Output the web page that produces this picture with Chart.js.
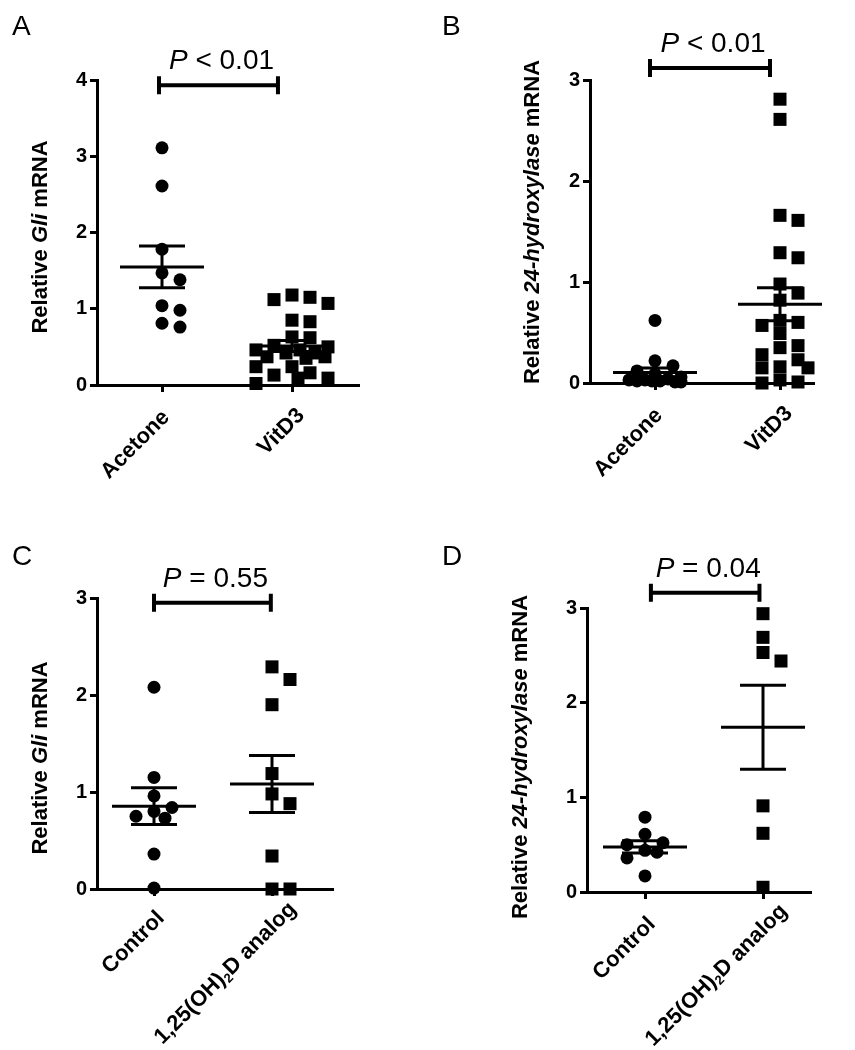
<!DOCTYPE html>
<html>
<head>
<meta charset="utf-8">
<script src="https://cdn.jsdelivr.net/npm/chart.js@4/dist/chart.umd.min.js"></script>
<style>
html,body{margin:0;padding:0;background:#fff;}
#wrap{position:relative;width:855px;height:1050px;background:#fff;}
canvas{position:absolute;left:0;top:0;}
</style>
</head>
<body>
<div id="wrap">
<canvas id="cA" width="855" height="1050"></canvas>
<canvas id="cB" width="855" height="1050"></canvas>
<canvas id="cC" width="855" height="1050"></canvas>
<canvas id="cD" width="855" height="1050"></canvas>
</div>
<script>
// ---------- DATA ----------
// Panel A : Relative Gli mRNA
const aCategories = ['Acetone', 'VitD3'];
const aAcetone = [3.11, 2.61, 1.78, 1.47, 1.38, 1.04, 0.98, 0.81, 0.76];
const aVitD3 = [1.18, 1.15, 1.12, 1.07, 0.85, 0.83, 0.63, 0.62, 0.52, 0.50, 0.46, 0.46,
                0.42, 0.42, 0.37, 0.37, 0.35, 0.24, 0.24, 0.16, 0.13, 0.09, 0.09, 0.02];
const aTicks = [0, 1, 2, 3, 4];
const aPText = 'P < 0.01';

// Panel B : Relative 24-hydroxylase mRNA
const bCategories = ['Acetone', 'VitD3'];
const bAcetone = [0.62, 0.22, 0.17, 0.12, 0.09, 0.06, 0.04, 0.03, 0.03, 0.02, 0.02, 0.02, 0.01, 0.01];
const bVitD3 = [2.81, 2.61, 1.66, 1.61, 1.29, 1.24, 0.98, 0.89, 0.82, 0.62, 0.60, 0.57,
                0.49, 0.37, 0.35, 0.28, 0.23, 0.16, 0.15, 0.15, 0.03, 0.01, 0.00];
const bTicks = [0, 1, 2, 3];
const bPText = 'P < 0.01';

// Panel C : Relative Gli mRNA
const cCategories = ['Control', '1,25(OH)₂D analog'];
const cControl = [2.08, 1.15, 0.96, 0.84, 0.80, 0.75, 0.73, 0.36, 0.01];
const cAnalog = [2.29, 2.16, 1.90, 1.19, 0.98, 0.88, 0.34, 0.00, 0.00];
const cTicks = [0, 1, 2, 3];
const cPText = 'P = 0.55';

// Panel D : Relative 24-hydroxylase mRNA
const dCategories = ['Control', '1,25(OH)₂D analog'];
const dControl = [0.79, 0.61, 0.52, 0.50, 0.44, 0.42, 0.36, 0.17];
const dAnalog = [2.94, 2.69, 2.53, 2.44, 0.91, 0.62, 0.05];
const dTicks = [0, 1, 2, 3];
const dPText = 'P = 0.04';

// ---------- HELPERS ----------
const FONT = '"Liberation Sans", Arial, Helvetica, sans-serif';

function stats(v) {
  const n = v.length;
  const m = v.reduce((a, b) => a + b, 0) / n;
  const sd = Math.sqrt(v.reduce((a, b) => a + (b - m) * (b - m), 0) / (n - 1));
  return { m: m, s: sd / Math.sqrt(n) };
}

// column-scatter spreading, computed from the values (grid slots, then least-overlap)
function swarm(values, center, ppuX, ppuY, stepPx, minDist, maxW) {
  const placed = [];
  return values.map(v => {
    const y = v * ppuY;
    const md = x => placed.reduce((m, p) => Math.min(m, Math.hypot(p.x - x, p.y - y)), Infinity);
    let best = null;
    for (let k = 0; k < 40; k++) {
      const slot = k === 0 ? 0 : (k % 2 === 1 ? (k + 1) / 2 : -k / 2);
      const x = slot * stepPx;
      if (Math.abs(x) > maxW + 0.1) break;
      if (md(x) >= minDist) { best = x; break; }
    }
    if (best === null) {
      let bd = -Infinity;
      for (let x = -maxW; x <= maxW + 0.01; x += 1) {
        const d = md(x) - Math.abs(x) * 0.01;
        if (d > bd) { bd = d; best = x; }
      }
    }
    placed.push({ x: best, y: y });
    return { x: center + best / ppuX, y: v };
  });
}

function drawSegs(ctx, segs, x, y, align) {
  let total = 0;
  segs.forEach(s => { ctx.font = s.font; s.w = ctx.measureText(s.t).width; total += s.w; });
  let cx = align === 'right' ? x - total : align === 'center' ? x - total / 2 : x;
  segs.forEach(s => {
    ctx.font = s.font;
    ctx.fillText(s.t, cx, y + (s.dy || 0));
    cx += s.w;
  });
}

function labelSegs(text, size) {
  const parts = text.split('₂');
  const segs = [];
  parts.forEach((p, i) => {
    if (i > 0) segs.push({ t: '2', font: 'bold ' + Math.round(size * 0.6) + 'px ' + FONT, dy: 6 });
    if (p) segs.push({ t: p, font: 'bold ' + size + 'px ' + FONT });
  });
  return segs;
}

function makePanel(id, P) {
  const W = 855, H = 1050, YW = 60, XH = 20;
  const A = P.area;
  const ppu = P.catPx[1] - P.catPx[0];
  const xMin = 1 - (P.catPx[0] - A.l) / ppu;
  const xMax = xMin + (A.r - A.l) / ppu;
  const yMax = P.ticks[P.ticks.length - 1];
  const ppuY = (A.b - A.t) / yMax;
  const datasets = [];
  const lineDs = pts => ({
    data: pts, showLine: true, borderColor: '#000', borderWidth: 3, pointRadius: 0,
    pointHoverRadius: 0, order: 0, clip: false, borderCapStyle: 'butt', tension: 0
  });
  P.series.forEach((s, i) => {
    const c = i + 1;
    datasets.push({
      data: swarm(s.values, c, ppu, ppuY, 18, 13, s.spread),
      pointStyle: s.shape,
      pointRadius: s.shape === 'circle' ? 6.5 : 9.2,
      pointHoverRadius: s.shape === 'circle' ? 6.5 : 9.2,
      pointBackgroundColor: '#000', pointBorderWidth: 0, borderWidth: 0,
      showLine: false, order: 1, clip: false
    });
    const st = stats(s.values);
    const hw = 42 / ppu, cw = 23 / ppu;
    datasets.push(lineDs([{ x: c - hw, y: st.m }, { x: c + hw, y: st.m }]));
    datasets.push(lineDs([{ x: c, y: st.m - st.s }, { x: c, y: st.m + st.s }]));
    datasets.push(lineDs([{ x: c - cw, y: st.m + st.s }, { x: c + cw, y: st.m + st.s }]));
    datasets.push(lineDs([{ x: c - cw, y: st.m - st.s }, { x: c + cw, y: st.m - st.s }]));
  });

  const axisCommon = {
    grid: { display: true, drawOnChartArea: false, drawTicks: true, tickLength: 7,
            color: '#000', lineWidth: 3, tickColor: '#000', tickWidth: 3 },
    border: { display: true, color: '#000', width: 3 }
  };

  const deco = {
    id: 'deco' + id,
    afterDraw(chart) {
      const ctx = chart.ctx;
      const xs = chart.scales.x, ys = chart.scales.y;
      ctx.save();
      ctx.fillStyle = '#000';
      ctx.strokeStyle = '#000';
      // panel letter
      ctx.font = '28px ' + FONT;
      ctx.textAlign = 'left';
      ctx.textBaseline = 'alphabetic';
      ctx.fillText(P.letter, P.letterPos[0], P.letterPos[1]);
      // y axis title
      ctx.save();
      ctx.translate(P.yTitlePos[0], P.yTitlePos[1]);
      ctx.rotate(-Math.PI / 2);
      ctx.textBaseline = 'middle';
      ctx.textAlign = 'left';
      drawSegs(ctx, P.yTitle.map(s => ({ t: s[0], font: (s[1] ? 'italic ' : '') + 'bold 22px ' + FONT })), 0, 0, 'center');
      ctx.restore();
      // category labels (rotated)
      P.cats.forEach((cat, i) => {
        const px = xs.getPixelForValue(i + 1) + P.labOff[i][0];
        const py = A.b + P.labOff[i][1];
        ctx.save();
        ctx.translate(px, py);
        ctx.rotate(-Math.PI / 4);
        ctx.textBaseline = 'middle';
        ctx.textAlign = 'left';
        drawSegs(ctx, labelSegs(cat, 22), 0, 0, 'right');
        ctx.restore();
      });
      // significance bracket
      const bx1 = xs.getPixelForValue(P.bracket[0]);
      const bx2 = xs.getPixelForValue(P.bracket[1]);
      const by = ys.getPixelForValue(P.bracket[2]);
      ctx.lineWidth = 4;
      ctx.lineCap = 'butt';
      ctx.beginPath();
      ctx.moveTo(bx1, by); ctx.lineTo(bx2, by);
      ctx.moveTo(bx1, by - 9); ctx.lineTo(bx1, by + 9);
      ctx.moveTo(bx2, by - 9); ctx.lineTo(bx2, by + 9);
      ctx.stroke();
      // P text
      ctx.textBaseline = 'alphabetic';
      ctx.textAlign = 'left';
      const ptxt = P.pText;
      drawSegs(ctx, [
        { t: ptxt.slice(0, 1), font: 'italic 28px ' + FONT },
        { t: ptxt.slice(1), font: '28px ' + FONT }
      ], (bx1 + bx2) / 2 + 3, by - 16, 'center');
      ctx.restore();
    }
  };

  return new Chart(document.getElementById(id), {
    type: 'scatter',
    data: { datasets: datasets },
    options: {
      responsive: false, animation: false, events: [], devicePixelRatio: 1,
      layout: { padding: { left: A.l - YW, right: W - A.r, top: A.t, bottom: H - A.b - XH } },
      plugins: { legend: { display: false }, tooltip: { enabled: false } },
      scales: {
        x: Object.assign({
          type: 'linear', min: xMin, max: xMax,
          ticks: { display: false },
          afterBuildTicks: s => { s.ticks = P.cats.map((c, i) => ({ value: i + 1 })); },
          afterFit: s => { s.height = XH; }
        }, axisCommon),
        y: Object.assign({
          type: 'linear', min: 0, max: yMax,
          ticks: { color: '#000', padding: 3, font: { family: FONT, size: 20, weight: 'bold' } },
          afterBuildTicks: s => { s.ticks = P.ticks.map(v => ({ value: v })); },
          afterFit: s => { s.width = YW; }
        }, axisCommon)
      }
    },
    plugins: [deco]
  });
}

makePanel('cA', {
  letter: 'A', letterPos: [12, 35],
  area: { l: 97, r: 358, t: 80, b: 385 }, catPx: [162, 292],
  cats: aCategories, ticks: aTicks,
  series: [{ values: aAcetone, shape: 'circle', spread: 20 }, { values: aVitD3, shape: 'rect', spread: 37 }],
  yTitle: [['Relative ', false], ['Gli', true], [' mRNA', false]], yTitlePos: [41, 237],
  labOff: [[4, 29], [9, 27]],
  bracket: [0.977, 1.892, 3.93], pText: aPText
});
makePanel('cB', {
  letter: 'B', letterPos: [442, 35],
  area: { l: 590, r: 813, t: 80, b: 383 }, catPx: [655, 780],
  cats: bCategories, ticks: bTicks,
  series: [{ values: bAcetone, shape: 'circle', spread: 26 }, { values: bVitD3, shape: 'rect', spread: 28 }],
  yTitle: [['Relative ', false], ['24-hydroxylase', true], [' mRNA', false]], yTitlePos: [533, 222],
  labOff: [[4, 29], [9, 27]],
  bracket: [0.96, 1.92, 3.12], pText: bPText
});
makePanel('cC', {
  letter: 'C', letterPos: [12, 565],
  area: { l: 97, r: 332, t: 598, b: 889 }, catPx: [154, 272],
  cats: cCategories, ticks: cTicks,
  series: [{ values: cControl, shape: 'circle', spread: 18 }, { values: cAnalog, shape: 'rect', spread: 18 }],
  yTitle: [['Relative ', false], ['Gli', true], [' mRNA', false]], yTitlePos: [41, 758],
  labOff: [[7, 26], [21, 17]],
  bracket: [1.0, 1.99, 2.95], pText: cPText
});
makePanel('cD', {
  letter: 'D', letterPos: [442, 565],
  area: { l: 587, r: 810, t: 608, b: 892 }, catPx: [645, 763],
  cats: dCategories, ticks: dTicks,
  series: [{ values: dControl, shape: 'circle', spread: 18 }, { values: dAnalog, shape: 'rect', spread: 18 }],
  yTitle: [['Relative ', false], ['24-hydroxylase', true], [' mRNA', false]], yTitlePos: [521, 757],
  labOff: [[7, 29], [21, 16]],
  bracket: [1.05, 1.97, 3.16], pText: dPText
});
</script>
</body>
</html>
